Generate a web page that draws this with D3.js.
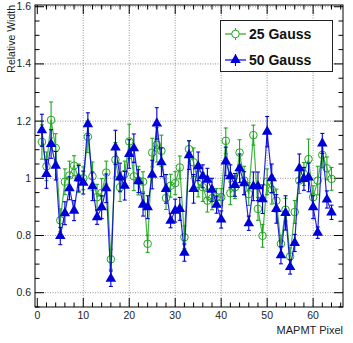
<!DOCTYPE html>
<html>
<head>
<meta charset="utf-8">
<script src="https://cdn.jsdelivr.net/npm/d3@7"></script>
<style>
  body { margin: 0; background: #fff; }
  svg { font-family: "Liberation Sans", Arial, sans-serif; }
</style>
</head>
<body>
<div id="chart"></div>
<script>
'use strict';
//pixel numbers 1..64
const pixels = d3.range(1, 65);
//relative width, 25 Gauss
const g25 = [1.127, 1.042, 1.204, 1.106, 0.853, 0.988, 1.01, 1.044, 1.0, 1.0,
             1.145, 1.007, 0.934, 0.949, 1.02, 0.717, 1.065, 0.969, 1.015, 1.129,
             1.007, 0.992, 0.988, 0.771, 1.09, 1.117, 1.096, 0.931, 0.974, 0.983,
             1.038, 0.794, 1.102, 1.056, 0.98, 0.969, 0.922, 0.93, 0.934, 0.934,
             1.131, 0.948, 0.969, 1.09, 0.992, 0.945, 1.151, 0.893, 0.799, 0.988,
             0.96, 0.922, 0.771, 0.89, 0.727, 0.882, 0.992, 1.015, 1.067, 0.934,
             0.992, 1.082, 1.035, 0.998];
const g25err = [0.06, 0.05, 0.063, 0.05, 0.04, 0.045, 0.05, 0.035, 0.05, 0.04,
                0.055, 0.05, 0.045, 0.05, 0.04, 0.035, 0.06, 0.05, 0.045, 0.06,
                0.05, 0.05, 0.035, 0.03, 0.05, 0.06, 0.055, 0.04, 0.04, 0.04,
                0.04, 0.04, 0.03, 0.05, 0.045, 0.05, 0.04, 0.04, 0.03, 0.03,
                0.045, 0.04, 0.04, 0.045, 0.05, 0.04, 0.035, 0.04, 0.04, 0.045,
                0.05, 0.04, 0.03, 0.04, 0.03, 0.04, 0.045, 0.04, 0.07, 0.04,
                0.05, 0.045, 0.04, 0.04];
//relative width, 50 Gauss
const g50 = [1.168, 1.015, 1.12, 1.044, 0.798, 0.878, 0.965, 0.887, 1.0, 0.985,
             1.189, 0.972, 0.864, 0.899, 0.965, 0.649, 1.108, 1.003, 0.974, 1.085,
             1.105, 0.99, 0.908, 0.899, 1.013, 1.192, 1.056, 0.963, 0.852, 0.887,
             0.893, 0.74, 1.081, 0.963, 1.042, 1.007, 0.995, 0.96, 0.908, 0.856,
             1.059, 1.007, 0.977, 1.035, 0.983, 0.843, 0.972, 0.972, 0.927, 1.163,
             1.0, 0.893, 0.731, 0.879, 0.69, 0.774, 1.035, 0.998, 1.003, 0.899,
             0.81, 1.122, 0.926, 0.881];
const g50err = [0.056, 0.05, 0.05, 0.05, 0.03, 0.04, 0.04, 0.035, 0.045, 0.04,
                0.04, 0.05, 0.025, 0.04, 0.05, 0.027, 0.06, 0.05, 0.05, 0.05,
                0.05, 0.04, 0.04, 0.04, 0.05, 0.055, 0.05, 0.05, 0.025, 0.04,
                0.04, 0.03, 0.05, 0.05, 0.05, 0.04, 0.04, 0.04, 0.03, 0.03,
                0.05, 0.04, 0.04, 0.05, 0.04, 0.025, 0.05, 0.05, 0.05, 0.053,
                0.05, 0.05, 0.03, 0.06, 0.025, 0.03, 0.05, 0.04, 0.05, 0.04,
                0.02, 0.035, 0.03, 0.025];
const xTicks = [0, 10, 20, 30, 40, 50, 60];
const yTicks = [0.6, 0.8, 1.0, 1.2, 1.4, 1.6];
const legendLabels = ["25 Gauss", "50 Gauss"];

const W = 353, H = 343;
const frame = {left: 35, right: 343, top: 5, bottom: 307};
const green = "#22a822", blue = "#0000d8";

const x = d3.scaleLinear().domain([-0.5, 66.5]).range([frame.left, frame.right]);
const y = d3.scaleLinear().domain([0.55, 1.606]).range([frame.bottom, frame.top]);

const svg = d3.select("#chart").append("svg")
    .attr("width", W)
    .attr("height", H);

//grid lines, dotted
const grid = svg.append("g").attr("stroke", "#777").attr("stroke-width", 0.8)
    .attr("stroke-dasharray", "1,1.5");
grid.selectAll("line.v").data(xTicks.filter(d => d > 0)).enter().append("line")
    .attr("x1", d => x(d)).attr("x2", d => x(d))
    .attr("y1", frame.top).attr("y2", frame.bottom);
grid.selectAll("line.h").data(yTicks).enter().append("line")
    .attr("x1", frame.left).attr("x2", frame.right)
    .attr("y1", d => y(d)).attr("y2", d => y(d));

//ticks inside the frame, on all four sides like ROOT
const ticks = svg.append("g").attr("stroke", "#000").attr("stroke-width", 1);
const xMinor = d3.range(0, 67, 2);
xMinor.forEach(function(v) {
    const len = v % 10 === 0 ? 9 : 4.5;
    ticks.append("line").attr("x1", x(v)).attr("x2", x(v))
        .attr("y1", frame.bottom).attr("y2", frame.bottom - len);
    ticks.append("line").attr("x1", x(v)).attr("x2", x(v))
        .attr("y1", frame.top).attr("y2", frame.top + len);
});
const yMinor = d3.range(0.55, 1.61, 0.05);
yMinor.forEach(function(v) {
    const major = Math.abs(Math.round(v * 5) - v * 5) < 0.01;
    const len = major ? 9 : 4.5;
    ticks.append("line").attr("x1", frame.left).attr("x2", frame.left + len)
        .attr("y1", y(v)).attr("y2", y(v));
    ticks.append("line").attr("x1", frame.right).attr("x2", frame.right - len)
        .attr("y1", y(v)).attr("y2", y(v));
});

//tick labels
svg.append("g").selectAll("text").data(xTicks).enter().append("text")
    .attr("x", d => x(d)).attr("y", 319)
    .attr("text-anchor", "middle").attr("font-size", 10.5).attr("fill", "#222")
    .text(d => d);
svg.append("g").selectAll("text").data(yTicks).enter().append("text")
    .attr("x", 31).attr("y", d => y(d) + 3.5)
    .attr("text-anchor", "end").attr("font-size", 10.5).attr("fill", "#222")
    .text(d => d3.format(".1f")(d).replace(".0", ""));

//axis titles
svg.append("text")
    .attr("x", frame.right).attr("y", 334)
    .attr("text-anchor", "end").attr("font-size", 11).attr("fill", "#222")
    .text("MAPMT Pixel");
svg.append("text")
    .attr("transform", "translate(11," + frame.top + ") rotate(-90)")
    .attr("text-anchor", "end").attr("dy", "0.35em").attr("font-size", 10.5).attr("fill", "#222")
    .text("Relative Width");

const triangle = d3.symbol().type(d3.symbolTriangle).size(48);

function drawSeries(vals, errs, color, filled) {
    const data = pixels.map((p, i) => ({p: p, v: vals[i], e: errs[i]}));
    const g = svg.append("g");
    g.append("path").datum(data)
        .attr("fill", "none").attr("stroke", color).attr("stroke-width", 1.2)
        .attr("stroke-opacity", 0.85)
        .attr("d", d3.line().x(d => x(d.p)).y(d => y(d.v)));
    const eb = g.selectAll("g.err").data(data).enter().append("g")
        .attr("stroke", color).attr("stroke-width", 1.1);
    eb.append("line").attr("x1", d => x(d.p)).attr("x2", d => x(d.p))
        .attr("y1", d => y(d.v - d.e)).attr("y2", d => y(d.v + d.e));
    eb.append("line").attr("x1", d => x(d.p) - 2).attr("x2", d => x(d.p) + 2)
        .attr("y1", d => y(d.v + d.e)).attr("y2", d => y(d.v + d.e));
    eb.append("line").attr("x1", d => x(d.p) - 2).attr("x2", d => x(d.p) + 2)
        .attr("y1", d => y(d.v - d.e)).attr("y2", d => y(d.v - d.e));
    if (filled) {
        g.selectAll("path.m").data(data).enter().append("path")
            .attr("transform", d => "translate(" + x(d.p) + "," + y(d.v) + ")")
            .attr("d", triangle).attr("fill", color);
    } else {
        g.selectAll("circle").data(data).enter().append("circle")
            .attr("cx", d => x(d.p)).attr("cy", d => y(d.v)).attr("r", 3.8)
            .attr("fill", "none").attr("stroke", color).attr("stroke-width", 1);
    }
}
drawSeries(g25, g25err, green, false);
drawSeries(g50, g50err, blue, true);

//frame
svg.append("rect")
    .attr("x", frame.left).attr("y", frame.top)
    .attr("width", frame.right - frame.left).attr("height", frame.bottom - frame.top)
    .attr("fill", "none").attr("stroke", "#000").attr("stroke-width", 1);

//legend
const leg = svg.append("g");
leg.append("rect").attr("x", 220.5).attr("y", 20.5).attr("width", 112).attr("height", 51)
    .attr("fill", "#fff").attr("stroke", "#222").attr("stroke-width", 1);
legendLabels.forEach(function(lab, i) {
    const cy = 34 + i * 26;
    const col = i === 0 ? green : blue;
    leg.append("line").attr("x1", 225).attr("x2", 246).attr("y1", cy).attr("y2", cy)
        .attr("stroke", col).attr("stroke-width", 1.2);
    leg.append("line").attr("x1", 235.5).attr("x2", 235.5).attr("y1", cy - 6).attr("y2", cy + 6)
        .attr("stroke", col).attr("stroke-width", 1.1);
    if (i === 0) {
        leg.append("circle").attr("cx", 235.5).attr("cy", cy).attr("r", 3.8)
            .attr("fill", "#fff").attr("stroke", col);
    } else {
        leg.append("path").attr("transform", "translate(235.5," + cy + ")")
            .attr("d", triangle).attr("fill", col);
    }
    leg.append("text").attr("x", 249).attr("y", cy + 5)
        .attr("font-size", 14).attr("font-weight", "bold").attr("fill", "#111")
        .text(lab);
});
</script>
</body>
</html>
